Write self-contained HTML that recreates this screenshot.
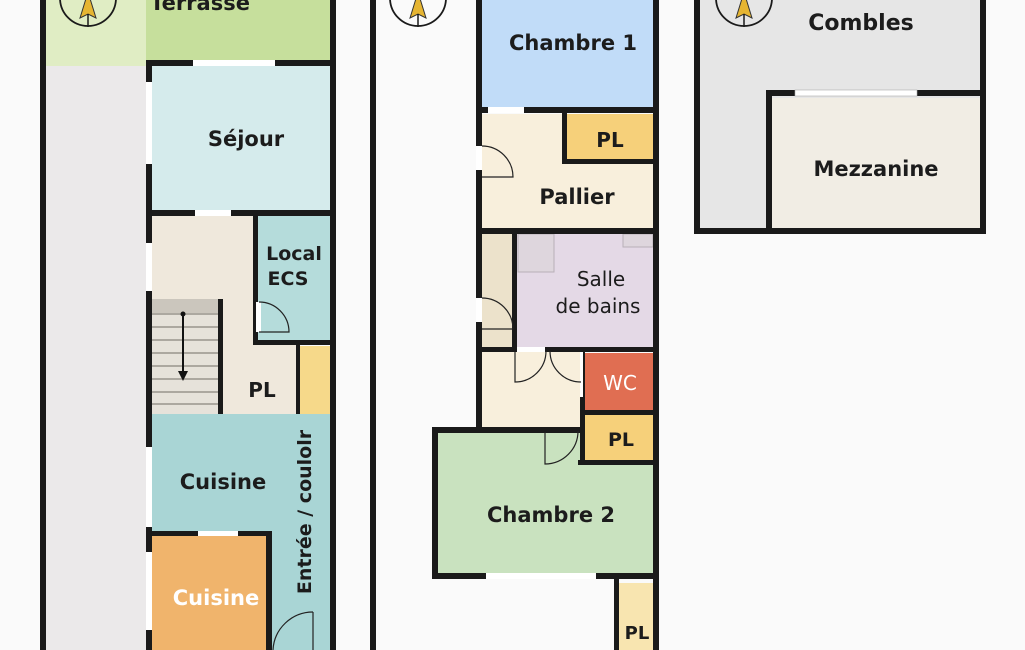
<!DOCTYPE html>
<html><head><meta charset="utf-8"><style>
html,body{margin:0;padding:0;background:#fafafa;width:1025px;height:650px;overflow:hidden}
svg text{font-family:"DejaVu Sans","Liberation Sans",sans-serif;font-weight:bold;fill:#1c1c1c;text-anchor:middle}
</style></head><body>
<svg width="1025" height="650" viewBox="0 0 1025 650" xmlns="http://www.w3.org/2000/svg">
<rect width="1025" height="650" fill="#fafafa"/>
<!-- Panel 1 -->
<rect x="46" y="0" width="100" height="66" fill="#e0edc4"/>
<rect x="146" y="0" width="186" height="62" fill="#c6df9c"/>
<rect x="46" y="66" width="100" height="584" fill="#ebe9ea"/>
<rect x="152" y="66" width="178" height="144" fill="#d5ebec"/>
<rect x="152" y="216" width="148" height="198" fill="#efe8dc"/>
<rect x="256" y="216" width="74" height="127" fill="#b5dcdb"/>
<rect x="300" y="346" width="30" height="68" fill="#f6d98a"/>
<rect x="152" y="299" width="66" height="115" fill="#e6e2da"/>
<rect x="152" y="299" width="66" height="14" fill="#cbc6bd"/>
<g stroke="#8a857e" stroke-width="1.2">
<line x1="152" y1="314" x2="218" y2="314"/><line x1="152" y1="327" x2="218" y2="327"/><line x1="152" y1="340" x2="218" y2="340"/><line x1="152" y1="353" x2="218" y2="353"/><line x1="152" y1="366" x2="218" y2="366"/><line x1="152" y1="379" x2="218" y2="379"/><line x1="152" y1="392" x2="218" y2="392"/><line x1="152" y1="404" x2="218" y2="404"/>
</g>
<line x1="183" y1="315" x2="183" y2="375" stroke="#111" stroke-width="2"/>
<circle cx="183" cy="314" r="2.5" fill="#111"/>
<polygon points="178,371 188,371 183,381" fill="#111"/>
<rect x="152" y="414" width="178" height="236" fill="#a9d5d5"/>
<rect x="152" y="536" width="116" height="114" fill="#f0b46c"/>
<g fill="#1a1a1a">
<rect x="40" y="0" width="6" height="650"/>
<rect x="330" y="0" width="6" height="650"/>
<rect x="146" y="60" width="190" height="6"/>
<rect x="146" y="60" width="6" height="590"/>
<rect x="146" y="210" width="190" height="6"/>
<rect x="253" y="216" width="5" height="127"/>
<rect x="253" y="340" width="80" height="5"/>
<rect x="296" y="343" width="4" height="71"/>
<rect x="218" y="240" width="5" height="174"/>
<rect x="146" y="531" width="126" height="5"/>
<rect x="266" y="531" width="6" height="119"/>
</g>
<rect x="218" y="216" width="35" height="83" fill="#efe8dc"/>
<rect x="152" y="216" width="66" height="83" fill="#efe8dc"/>
<g fill="#fff">
<rect x="193" y="60" width="82" height="6"/><rect x="146" y="82" width="6" height="82"/>
<rect x="195" y="210" width="36" height="6"/><rect x="146" y="243" width="6" height="48"/>
<rect x="146" y="447" width="6" height="80"/><rect x="146" y="552" width="6" height="78"/>
<rect x="198" y="531" width="40" height="5"/>
<rect x="256" y="302" width="5" height="30"/>
</g>
<path d="M259,302 A30,30 0 0 1 289,332 L259,332" fill="none" stroke="#222" stroke-width="1.2"/>
<path d="M313,612 A40,40 0 0 0 273,650" fill="none" stroke="#222" stroke-width="1.2"/>
<line x1="313" y1="612" x2="313" y2="650" stroke="#222" stroke-width="1.2"/>
<text x="200" y="10" font-size="21">Terrasse</text>
<text x="246" y="146" font-size="21">Séjour</text>
<text x="294" y="260" font-size="19">Local</text>
<text x="288" y="285" font-size="19">ECS</text>
<text x="262" y="397" font-size="20">PL</text>
<text x="223" y="489" font-size="21">Cuisine</text>
<text x="216" y="605" font-size="21" style="fill:#fff">Cuisine</text>
<text x="0" y="0" font-size="19" transform="translate(311,512) rotate(-90)">Entrée / coulolr</text>
<!-- Panel 2 -->
<rect x="376" y="0" width="100" height="650" fill="#fafafa"/>
<rect x="482" y="0" width="171" height="108" fill="#c1dcf8"/>
<rect x="482" y="114" width="171" height="114" fill="#f8efdc"/>
<rect x="567" y="114" width="86" height="47" fill="#f6d07a"/>
<rect x="514" y="234" width="139" height="116" fill="#e4d9e6"/>
<rect x="518" y="234" width="36" height="38" fill="#ded6dd" stroke="#b8b0b8"/>
<rect x="623" y="234" width="30" height="13" fill="#ded6dd" stroke="#b8b0b8"/>
<rect x="482" y="234" width="30" height="116" fill="#ece2cb"/>
<rect x="482" y="350" width="98" height="80" fill="#f8efdc"/>
<rect x="438" y="432" width="215" height="141" fill="#c9e2bf"/>
<rect x="585" y="353" width="68" height="60" fill="#e06e52"/>
<rect x="585" y="414" width="68" height="47" fill="#f6d07a"/>
<rect x="619" y="583" width="34" height="67" fill="#f8e5b0"/>
<g fill="#1a1a1a">
<rect x="370" y="0" width="6" height="650"/>
<rect x="653" y="0" width="6" height="650"/>
<rect x="476" y="0" width="6" height="432"/>
<rect x="476" y="107" width="183" height="6"/>
<rect x="562" y="113" width="5" height="50"/>
<rect x="562" y="159" width="93" height="5"/>
<rect x="476" y="228" width="183" height="6"/>
<rect x="512" y="230" width="5" height="120"/>
<rect x="476" y="347" width="183" height="5"/>
<rect x="580" y="347" width="5" height="115"/>
<rect x="580" y="410" width="79" height="5"/>
<rect x="578" y="460" width="81" height="5"/>
<rect x="432" y="427" width="150" height="6"/>
<rect x="432" y="427" width="6" height="152"/>
<rect x="432" y="573" width="227" height="6"/>
<rect x="614" y="576" width="5" height="74"/>
</g>
<g fill="#fff">
<rect x="488" y="107" width="36" height="6"/><rect x="476" y="146" width="6" height="24"/>
<rect x="517" y="347" width="28" height="5"/><rect x="476" y="298" width="6" height="24"/>
<rect x="580" y="352" width="3" height="45"/><rect x="486" y="573" width="110" height="6"/>
</g>
<g fill="none" stroke="#222" stroke-width="1.2">
<path d="M482,146 A31,31 0 0 1 513,177 L482,177"/>
<path d="M482,298 A31,31 0 0 1 513,329 L482,329"/>
<path d="M546,351 A31,31 0 0 1 515,382 L515,352"/>
<path d="M550,351 A31,31 0 0 0 581,382"/>
<path d="M578,431 A33,33 0 0 1 545,464 L545,432"/>
</g>
<text x="573" y="50" font-size="21">Chambre 1</text>
<text x="610" y="147" font-size="20">PL</text>
<text x="577" y="204" font-size="21">Pallier</text>
<text x="601" y="286" font-size="20" style="font-weight:normal">Salle</text>
<text x="598" y="313" font-size="20" style="font-weight:normal">de bains</text>
<text x="620" y="390" font-size="20" style="fill:#fff;font-weight:normal">WC</text>
<text x="621" y="446" font-size="19">PL</text>
<text x="551" y="522" font-size="21">Chambre 2</text>
<text x="637" y="639" font-size="18">PL</text>
<!-- Panel 3 -->
<rect x="700" y="0" width="280" height="228" fill="#e6e6e6"/>
<rect x="772" y="98" width="208" height="130" fill="#f1ede4"/>
<g fill="#1a1a1a">
<rect x="694" y="0" width="6" height="234"/>
<rect x="980" y="0" width="6" height="234"/>
<rect x="694" y="228" width="292" height="6"/>
<rect x="766" y="90" width="6" height="140"/>
<rect x="766" y="90" width="220" height="6"/>
</g>
<rect x="795" y="90" width="122" height="6" fill="#fff" stroke="#aaa" stroke-width="0.6"/>
<text x="861" y="30" font-size="22">Combles</text>
<text x="876" y="176" font-size="21">Mezzanine</text>
<!-- compasses -->
<g fill="none" stroke="#1a1a1a" stroke-width="1.8">
<circle cx="88" cy="-2" r="28"/><circle cx="418" cy="-2" r="28"/><circle cx="744" cy="-2" r="28"/>
</g>
<g fill="#e6b532" stroke="#333" stroke-width="1">
<polygon points="88,-8 96,18 88,14 80,18"/>
<polygon points="418,-8 426,18 418,14 410,18"/>
<polygon points="744,-8 752,18 744,14 736,18"/>
</g>
<g stroke="#1a1a1a" stroke-width="1.5">
<line x1="88" y1="14" x2="88" y2="27"/><line x1="418" y1="14" x2="418" y2="27"/><line x1="744" y1="14" x2="744" y2="27"/>
</g>
</svg>
</body></html>
